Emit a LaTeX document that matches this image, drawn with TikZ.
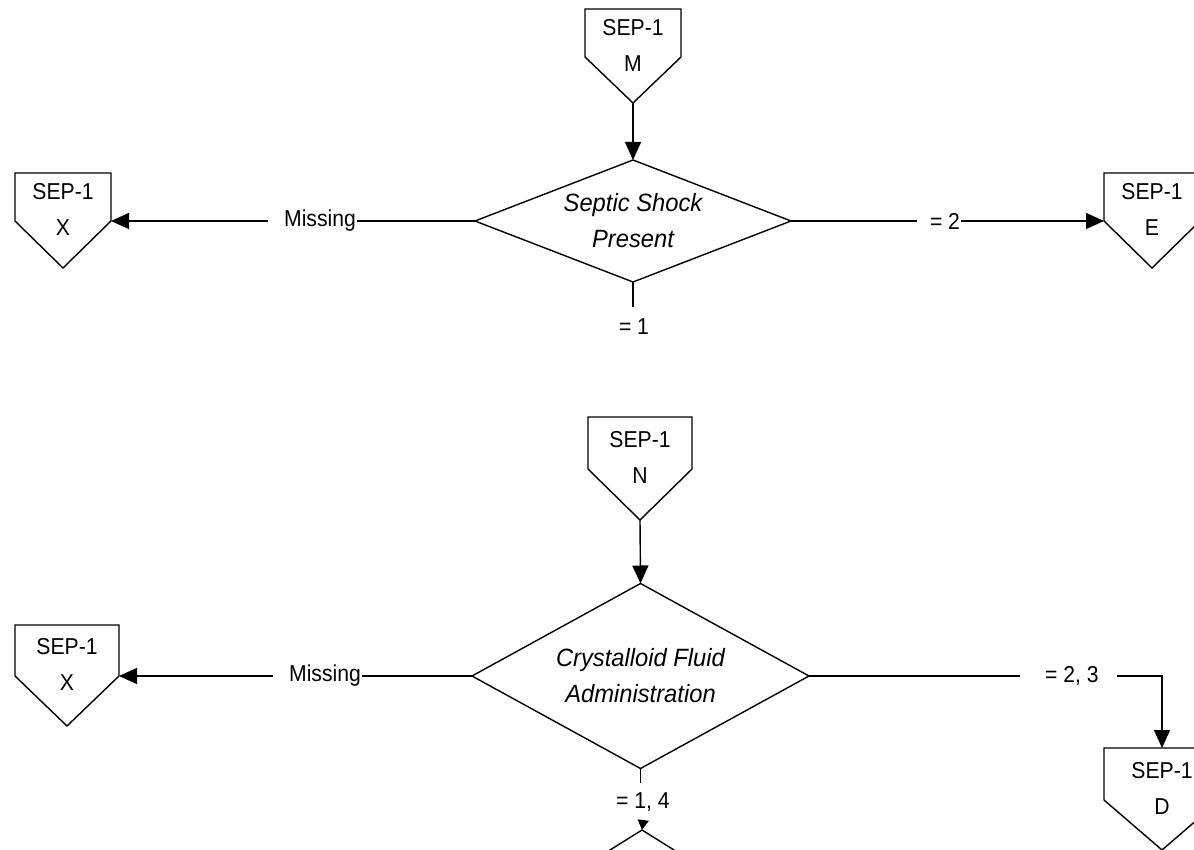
\documentclass[tikz,border=0pt]{standalone}
\usepackage{fontspec}
\setmainfont{Liberation Sans}
\newfontfamily\condfont[FakeStretch=0.92]{Liberation Sans}
\newfontfamily\condifont[FakeStretch=0.95,UprightFont=*,ItalicFont=* Italic]{Liberation Sans}
\usetikzlibrary{shapes.geometric,arrows.meta,calc}

\newcommand{\offpg}[7]{%
  \coordinate (#1-nw) at ({#2-#4},#3);
  \coordinate (#1-n) at (#2,#3);
  \coordinate (#1-ne) at ({#2+#4},#3);
  \coordinate (#1-e) at ({#2+#4},{#3+#5});
  \coordinate (#1-w) at ({#2-#4},{#3+#5});
  \coordinate (#1-s) at (#2,{#3+#5+#6});
  \draw[offline] (#1-nw) -- (#1-ne) -- (#1-e) -- (#1-s) -- (#1-w) -- cycle;
  \node[offtext] (#1) at (#2,{#3+#5-12}) {SEP-1\\#7};
}

\begin{document}
\begin{tikzpicture}[x=1pt,y=-1pt,
  line width=1.4pt,
  arr/.style={-{Triangle[length=18pt,width=16pt]}},
  smallarr/.style={-{Triangle[length=10pt,width=11pt]}},
  offline/.style={draw, fill=white, line join=miter},
  dec/.style={diamond, draw, inner sep=0pt, outer sep=0pt, align=center,
    font=\condifont\fontsize{25}{36}\selectfont\itshape},
  lbl/.style={inner sep=0pt, font=\condfont\fontsize{23}{25}\selectfont},
  offtext/.style={align=center, inner sep=0pt, font=\condfont\fontsize{23}{36}\selectfont},
]
\useasboundingbox (0,0) rectangle (1194,850);
\clip (0,0) rectangle (1194,850);

% ---------- upper part ----------
\offpg{M}{633}{9}{48}{48}{46}{M}
\offpg{Xa}{63}{173}{48}{48}{47}{X}
\offpg{E}{1152}{173}{48}{48}{47}{E}

\node[dec, minimum width=316pt, minimum height=122pt, aspect=2.59] (d1) at (633,221)
  {Septic Shock\\Present};

\node[lbl] (ms1) at (320,221) {Missing};
\node[lbl] (eq2) at (945,221) {= 2};
\node[lbl] (eq1) at (634,327) {= 1};

\draw[arr] (M-s) -- (d1.north);
\draw (d1.west) -- (ms1.east);
\draw[arr] ($(ms1.west)+(-15,0)$) -- (Xa-e);
\draw (d1.east) -- ($(eq2.west)+(-12,0)$);
\draw[arr] (eq2.east) -- (E-w);
\draw (d1.south) -- ++(0,25);

% ---------- lower part ----------
\offpg{N}{640}{417}{52}{52}{51}{N}
\offpg{Xb}{67}{625}{52}{51}{50}{X}
\offpg{D}{1162}{748}{58}{52}{50}{D}

\node[dec, minimum width=337pt, minimum height=185pt, aspect=1.82] (d2) at (640.5,676)
  {Crystalloid Fluid\\Administration};
\node[dec, minimum width=320pt, minimum height=200pt, aspect=1.6] (d3) at (642,930) {};

\node[lbl] (ms2) at (325,676) {Missing};
\node[lbl] (eq23) at (1072,676) {= 2, 3};
\node[lbl] (eq14) at (643,802) {= 1, 4};

\draw[arr] (N-s) -- (d2.north);
\draw (d2.west) -- (ms2.east);
\draw[arr] ($(ms2.west)+(-15,0)$) -- (Xb-e);
\draw (d2.east) -- ($(eq23.west)+(-25,0)$);
\draw[arr] ($(eq23.east)+(18,0)$) -| (D-n);
\draw (d2.south) -- ++(0,14);
\draw[smallarr] ($(eq14.south)+(0,10)$) -- (d3.north);
\end{tikzpicture}
\end{document}
